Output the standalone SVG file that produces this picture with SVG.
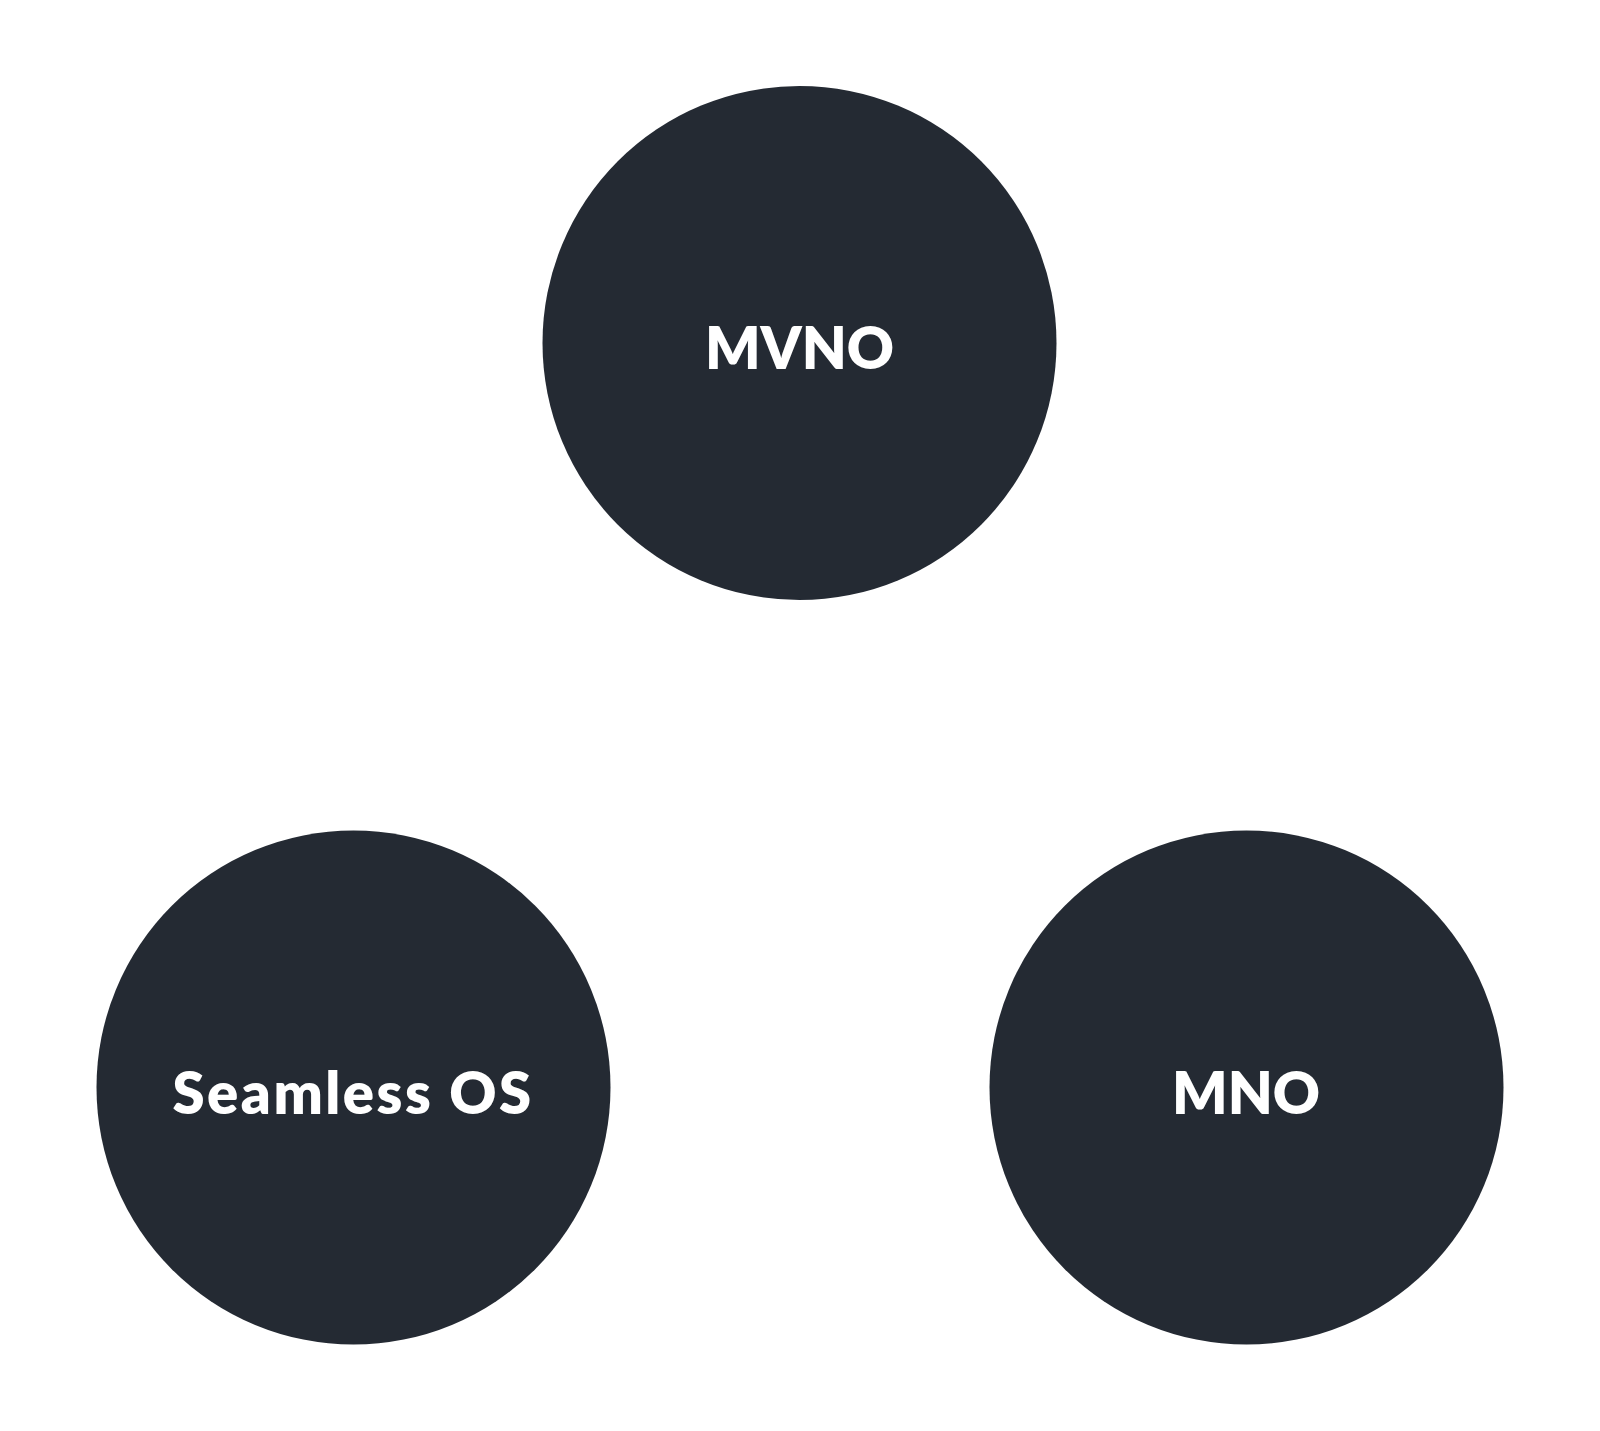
<svg xmlns="http://www.w3.org/2000/svg" width="1600" height="1431" viewBox="0 0 1600 1431">
<style>
.node{fill:#242a33}
.label{fill:#ffffff;font-family:Lato,"Open Sans","Liberation Sans",sans-serif;font-weight:800;font-size:58px;text-anchor:middle}
.wide{letter-spacing:2.5px}
</style>
<rect width="1600" height="1431" fill="#ffffff"/>
<g id="connectors"></g>
<g id="node-mvno">
<circle class="node" cx="799.5" cy="343" r="257"/>
<text class="label" x="799.5" y="369">MVNO</text>
</g>
<g id="node-seamless-os">
<circle class="node" cx="353.5" cy="1087.5" r="257"/>
<text class="label wide" x="353" y="1114">Seamless OS</text>
</g>
<g id="node-mno">
<circle class="node" cx="1246.5" cy="1087.5" r="257"/>
<text class="label" x="1246" y="1114">MNO</text>
</g>
</svg>
